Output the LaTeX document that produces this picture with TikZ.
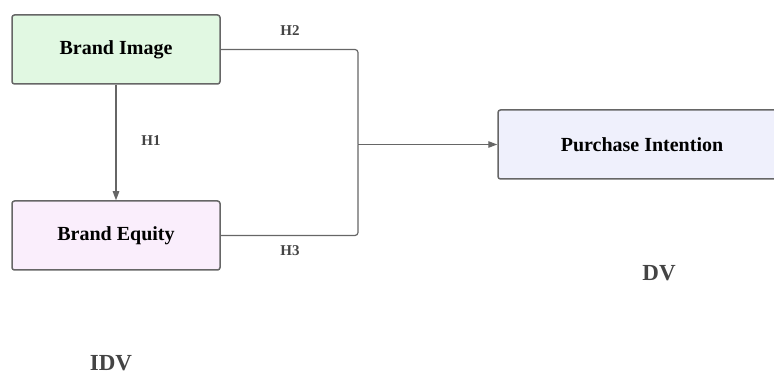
\documentclass[tikz,border=0pt]{standalone}
\usepackage{fontspec}
\setmainfont{Liberation Serif}
\usetikzlibrary{arrows.meta}
\definecolor{linegray}{HTML}{666666}
\definecolor{boxgreen}{HTML}{E1F8E2}
\definecolor{boxpink}{HTML}{FAEEFC}
\definecolor{boxblue}{HTML}{EFF0FC}
\definecolor{labelgray}{HTML}{444444}
\tikzset{
  box/.style={draw=linegray, line width=1.5pt, rounded corners=2.5pt, minimum height=69pt, inner sep=0pt, font=\bfseries\fontsize{20}{22}\selectfont, text=black},
  conn/.style={draw=linegray, line width=1.2pt},
  hlabel/.style={font=\bfseries\fontsize{15}{17}\selectfont, text=labelgray},
  vlabel/.style={inner sep=0pt, font=\bfseries\fontsize{23}{25}\selectfont, text=labelgray},
  tip/.style={-{Triangle[length=9pt,width=6.5pt]}}
}
\begin{document}
\begin{tikzpicture}[x=1pt,y=-1pt]
\useasboundingbox (0,0) rectangle (774,374);
\node[box, fill=boxgreen, minimum width=208pt] (bi) at (116,49.5) {Brand Image};
\node[box, fill=boxpink, minimum width=208pt] (be) at (116,235.5) {Brand Equity};
\node[box, fill=boxblue, minimum width=288pt] (pi) at (642,144.5) {Purchase Intention};
\coordinate (j) at (358,144.5);
\draw[conn, tip] (bi.south) -- (be.north);
\draw[conn, rounded corners=3pt] (bi.east) -| (j);
\draw[conn, rounded corners=3pt] (be.east) -| (j);
\draw[conn, tip] (j) -- (pi.west);
\node[hlabel] (h1) at (151,141) {H1};
\node[hlabel] (h2) at (290,31) {H2};
\node[hlabel] (h3) at (290,251) {H3};
\node[vlabel] (dv) at (659,273) {DV};
\node[vlabel, anchor=base] (idv) at (111,370) {IDV};
\end{tikzpicture}
\end{document}
